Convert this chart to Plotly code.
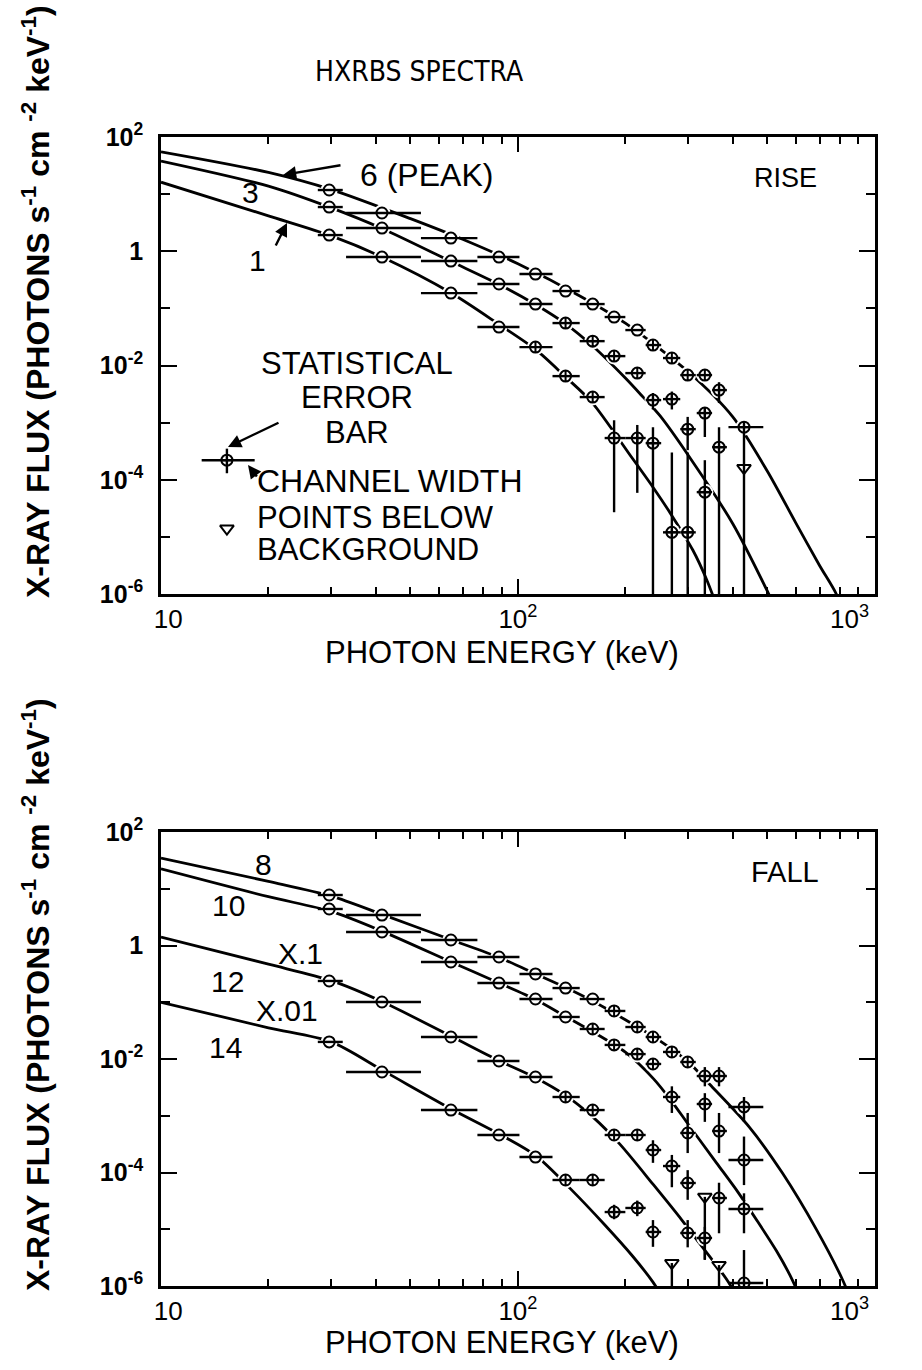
import plotly.graph_objects as go

W, H = 922, 1370

# ---------------------------------------------------------------
# Detector channels (keV): centre and lower / upper channel edges
# ---------------------------------------------------------------
E_CH    = [29.6, 41.6, 64.9, 88.5, 112, 136, 162, 186, 216, 239, 270, 299, 334, 366, 430]
E_CH_LO = [27.5, 33.0, 53.5, 77.0, 101, 125, 149, 175, 200, 228, 255, 285, 317, 350, 389]
E_CH_HI = [32.3, 53.5, 77.0, 101, 125, 149, 175, 200, 228, 252, 285, 315, 350, 385, 487]

OFF = 1e-7  # lower end for error bars that run off the bottom of the axis

# ---------------------------------------------------------------
# RISE spectra (photons s^-1 cm^-2 keV^-1); None = no point
# ---------------------------------------------------------------
RISE_6    = [11.8, 4.67, 1.70, 0.791, 0.399, 0.201, 0.119, 0.0705, 0.0417, 0.0228,
             0.0135, 0.00679, 0.00679, 0.00371, 8.34e-4]
RISE_6_LO = [None] * 13 + [0.0022, 4.4e-4]
RISE_6_HI = [None] * 13 + [0.0051, 1.02e-3]

RISE_3    = [5.94, 2.55, 0.673, 0.267, 0.119, 0.0553, 0.0267, 0.0146, 0.00736, 0.00248,
             0.00258, 7.69e-4, 1.47e-3, 3.72e-4, None]
RISE_3_LO = [None] * 9 + [0.0017, 0.0017, 3.3e-4, 5.6e-4, OFF, None]
RISE_3_HI = [None] * 9 + [0.0033, 0.0035, 1.26e-3, 1.86e-3, 8.3e-4, None]

RISE_1    = [1.92, 0.791, 0.185, 0.0471, 0.0210, 0.00652, 0.00280, 5.37e-4, 5.37e-4,
             4.37e-4, 1.20e-5, 1.20e-5, 6.07e-5, None, None]
RISE_1_LO = [None] * 7 + [2.7e-5, 5.9e-5, OFF, OFF, OFF, OFF, None, None]
RISE_1_HI = [None] * 7 + [1.1e-3, 9.1e-4, 8.3e-4, 3.0e-4, 3.0e-4, 2.2e-4, None, None]

# points below background (RISE, spectrum 3)
RISE_BG_E  = [430]
RISE_BG_F  = [1.60e-4]
RISE_BG_LO = [OFF]
RISE_BG_HI = [4.4e-4]

# ---------------------------------------------------------------
# FALL spectra
# ---------------------------------------------------------------
FALL_8    = [7.76, 3.44, 1.25, 0.627, 0.315, 0.178, 0.114, 0.0702, 0.0366, 0.0244,
             0.0133, 0.00885, 0.00501, 0.00501, 0.00143]
FALL_8_LO = [None] * 12 + [0.0033, 0.0033, 7.8e-4]
FALL_8_HI = [None] * 12 + [0.0072, 0.0072, 2.14e-3]

FALL_10    = [4.40, 1.73, 0.512, 0.218, 0.114, 0.0550, 0.0338, 0.0177, 0.0122, 0.00817,
              0.00214, 4.97e-4, 1.61e-3, 5.38e-4, 1.66e-4]
FALL_10_LO = [None] * 10 + [1.12e-3, 2.2e-4, 7.8e-4, 2.2e-4, 6.0e-5]
FALL_10_HI = [None] * 10 + [3.3e-3, 1.12e-3, 2.5e-3, 1.12e-3, 4.3e-4]

FALL_12    = [0.237, 0.101, 0.0244, 0.00923, 0.00482, 0.00214, 0.00126, 4.58e-4, 4.58e-4,
              2.49e-4, 1.30e-4, 6.53e-5, None, 3.55e-5, 2.28e-5]
FALL_12_LO = [None] * 9 + [1.48e-4, 5.5e-5, 3.3e-5, None, 8.5e-6, 8.5e-6]
FALL_12_HI = [None] * 9 + [3.7e-4, 2.04e-4, 1.1e-4, None, 6.6e-5, 4.3e-5]

FALL_14    = [0.0200, 0.00590, 0.00126, 4.58e-4, 1.87e-4, 7.38e-5, 7.38e-5, 2.01e-5, 2.37e-5,
              8.95e-6, None, 8.59e-6, 7.01e-6, None, 1.13e-6]
FALL_14_LO = [None] * 7 + [1.5e-5, 1.7e-5, 4.9e-6, None, 4.8e-6, 2.9e-6, None, OFF]
FALL_14_HI = [None] * 7 + [2.7e-5, 3.2e-5, 1.45e-5, None, 1.45e-5, 1.1e-5, None, 4.3e-6]

# points below background (FALL, spectra 12 and 14)
FALL_BG_E  = [334, 270, 366]
FALL_BG_F  = [3.72e-5, 2.54e-6, 2.34e-6]
FALL_BG_LO = [2.9e-6, OFF, OFF]
FALL_BG_HI = [None, None, None]

# ---------------------------------------------------------------
# Fitted model spectra
# ---------------------------------------------------------------
MOD_6_E = [10, 20, 30, 50, 70, 100, 150, 200, 300, 400, 500, 600, 700, 780, 850]
MOD_6_F = [55.0, 24.0, 12.0, 3.72, 1.62, 0.603, 0.162, 0.055, 0.00776, 0.00126,
           1.41e-4, 1.78e-5, 3.16e-6, 1.0e-6, 2.51e-7]
MOD_3_E = [10, 20, 30, 41.6, 65, 88.5, 112, 136, 162, 200, 224, 250, 300, 400, 500, 540]
MOD_3_F = [38.0, 13.8, 5.75, 2.51, 0.661, 0.263, 0.117, 0.0537, 0.0219, 0.00603,
           0.00282, 0.00132, 2.69e-4, 1.70e-5, 1.12e-6, 3.98e-7]
MOD_1_E = [10, 20, 30, 41.6, 65, 88.5, 112, 136, 161, 209, 239, 267, 309, 338, 370]
MOD_1_F = [16.2, 4.17, 1.86, 0.794, 0.186, 0.0525, 0.0191, 0.00631, 0.00229, 2.40e-4,
           7.41e-5, 2.63e-5, 5.89e-6, 1.78e-6, 3.98e-7]

MOD_8_E = [10, 20, 30, 42, 65, 88.5, 112, 136, 162, 200, 250, 300, 345, 445, 551, 687, 812, 870]
MOD_8_F = [34.7, 13.5, 7.41, 3.47, 1.26, 0.617, 0.316, 0.182, 0.105, 0.0490, 0.0209,
           0.00891, 0.00355, 6.31e-4, 9.77e-5, 9.77e-6, 1.29e-6, 4.47e-7]
MOD_10_E = [10, 20, 30, 42, 65, 88.5, 112, 136, 162, 200, 240, 270, 300, 360, 414, 468,
            530, 588, 640]
MOD_10_F = [22.4, 7.24, 3.98, 1.74, 0.513, 0.219, 0.112, 0.0562, 0.0302, 0.0132, 0.00447,
            0.00178, 7.08e-4, 1.48e-4, 4.47e-5, 1.41e-5, 4.17e-6, 1.26e-6, 3.55e-7]
MOD_12_E = [10, 20, 30, 42, 65, 88.5, 112, 136, 162, 193, 240, 288, 313, 385, 430]
MOD_12_F = [1.41, 0.468, 0.240, 0.100, 0.0251, 0.00933, 0.00468, 0.00229, 9.55e-4,
            3.16e-4, 6.03e-5, 1.45e-5, 7.24e-6, 1.29e-6, 3.98e-7]
MOD_14_E = [10, 20, 30, 42, 65, 88.5, 112, 140, 175, 210, 239, 260]
MOD_14_F = [0.100, 0.0355, 0.0200, 0.00617, 0.00132, 4.79e-4, 2.00e-4, 5.25e-5, 1.20e-5,
            3.31e-6, 1.17e-6, 5.01e-7]

# key (legend) sample: one channel with both error bars, one background point
KEY_E, KEY_E_LO, KEY_E_HI = [15.3], [13.0], [18.3]
KEY_F, KEY_F_LO, KEY_F_HI = [2.2e-4], [1.3e-4], [3.5e-4]
KEY_BG_E, KEY_BG_F = [15.3], [1.4e-5]

# axis ticks
NB = "&nbsp;"
X_TICKS = [10, 100, 1000]
X_TICK_TEXT = [NB * 2 + "10", "10<sup>2</sup>", "10<sup>3</sup>" + NB * 7]
X_MINOR = [20, 30, 40, 50, 60, 70, 80, 90, 200, 300, 400, 500, 600, 700, 800, 900]
Y_TICKS = [1e-6, 1e-4, 1e-2, 1, 100]
Y_TICK_TEXT = ["<b>10<sup>-6</sup></b>", "<b>10<sup>-4</sup></b>", "<b>10<sup>-2</sup></b>",
               "<b>1</b>", "<b>10<sup>2</sup></b>"]
Y_MINOR = [1e-5, 1e-3, 1e-1, 10]

FONT = "Liberation Sans, Arial, Helvetica, sans-serif"
NARROW = "Liberation Sans Narrow, DejaVu Sans Condensed, Arial Narrow, Liberation Sans, sans-serif"
INK = "black"


def px(x):
    return x / W


def py(y):
    return 1 - y / H


def model_trace(e, f, xa, ya):
    return go.Scatter(x=e, y=f, mode="lines", xaxis=xa, yaxis=ya,
                      line=dict(color=INK, width=2.8, shape="spline", smoothing=0.8),
                      hoverinfo="skip")


def channel_points(flux, lo, hi, n_open):
    xs, ys, exp, exm, eyp, eym, sym = [], [], [], [], [], [], []
    for i, f in enumerate(flux):
        if f is None:
            continue
        e = E_CH[i]
        xs.append(e)
        ys.append(f)
        exp.append(E_CH_HI[i] - e)
        exm.append(e - E_CH_LO[i])
        eyp.append(hi[i] - f if hi[i] is not None else 0)
        eym.append(f - lo[i] if lo[i] is not None else 0)
        sym.append("circle-open" if i < n_open else "circle-cross-open")
    return xs, ys, exp, exm, eyp, eym, sym


def halo_trace(series, xa, ya, extra_e=(), extra_f=()):
    # white discs that open small gaps in the model curves around each point
    xs, ys = list(extra_e), list(extra_f)
    for flux in series:
        for e, f in zip(E_CH, flux):
            if f is not None:
                xs.append(e)
                ys.append(f)
    return go.Scatter(x=xs, y=ys, mode="markers", xaxis=xa, yaxis=ya,
                      marker=dict(symbol="circle", size=17, color="white",
                                  line=dict(width=0)),
                      hoverinfo="skip")


def data_trace(flux, lo, hi, n_open, xa, ya):
    xs, ys, exp, exm, eyp, eym, sym = channel_points(flux, lo, hi, n_open)
    return go.Scatter(
        x=xs, y=ys, mode="markers", xaxis=xa, yaxis=ya,
        marker=dict(symbol=sym, size=11, color=INK, line=dict(width=2, color=INK)),
        error_x=dict(type="data", symmetric=False, array=exp, arrayminus=exm,
                     thickness=2.4, width=0, color=INK),
        error_y=dict(type="data", symmetric=False, array=eyp, arrayminus=eym,
                     thickness=2.4, width=0, color=INK),
        hoverinfo="skip")


def background_trace(e, f, lo, hi, xa, ya):
    eyp = [h - v if h is not None else 0 for v, h in zip(f, hi)]
    eym = [v - l if l is not None else 0 for v, l in zip(f, lo)]
    return go.Scatter(
        x=e, y=f, mode="markers", xaxis=xa, yaxis=ya,
        marker=dict(symbol="triangle-down-open", size=12, color=INK,
                    line=dict(width=2, color=INK)),
        error_y=dict(type="data", symmetric=False, array=eyp, arrayminus=eym,
                     thickness=2.4, width=0, color=INK),
        hoverinfo="skip")


fig = go.Figure()

# ---- RISE panel ----
for e, f in [(MOD_6_E, MOD_6_F), (MOD_3_E, MOD_3_F), (MOD_1_E, MOD_1_F)]:
    fig.add_trace(model_trace(e, f, "x", "y"))
fig.add_trace(halo_trace([RISE_6, RISE_3, RISE_1], "x", "y", RISE_BG_E, RISE_BG_F))
fig.add_trace(data_trace(RISE_6, RISE_6_LO, RISE_6_HI, 9, "x", "y"))
fig.add_trace(data_trace(RISE_3, RISE_3_LO, RISE_3_HI, 5, "x", "y"))
fig.add_trace(data_trace(RISE_1, RISE_1_LO, RISE_1_HI, 4, "x", "y"))
fig.add_trace(background_trace(RISE_BG_E, RISE_BG_F, RISE_BG_LO, RISE_BG_HI, "x", "y"))

# key symbols
fig.add_trace(go.Scatter(
    x=KEY_E, y=KEY_F, mode="markers", xaxis="x", yaxis="y",
    marker=dict(symbol="circle-cross-open", size=11, color=INK, line=dict(width=2, color=INK)),
    error_x=dict(type="data", symmetric=False,
                 array=[h - e for h, e in zip(KEY_E_HI, KEY_E)],
                 arrayminus=[e - l for l, e in zip(KEY_E_LO, KEY_E)],
                 thickness=2.4, width=0, color=INK),
    error_y=dict(type="data", symmetric=False,
                 array=[h - f for h, f in zip(KEY_F_HI, KEY_F)],
                 arrayminus=[f - l for l, f in zip(KEY_F_LO, KEY_F)],
                 thickness=2.4, width=0, color=INK),
    hoverinfo="skip"))
fig.add_trace(go.Scatter(
    x=KEY_BG_E, y=KEY_BG_F, mode="markers", xaxis="x", yaxis="y",
    marker=dict(symbol="triangle-down-open", size=12, color=INK, line=dict(width=2, color=INK)),
    hoverinfo="skip"))

# ---- FALL panel ----
for e, f in [(MOD_8_E, MOD_8_F), (MOD_10_E, MOD_10_F), (MOD_12_E, MOD_12_F),
             (MOD_14_E, MOD_14_F)]:
    fig.add_trace(model_trace(e, f, "x2", "y2"))
fig.add_trace(halo_trace([FALL_8, FALL_10, FALL_12, FALL_14], "x2", "y2",
                         FALL_BG_E, FALL_BG_F))
fig.add_trace(data_trace(FALL_8, FALL_8_LO, FALL_8_HI, 7, "x2", "y2"))
fig.add_trace(data_trace(FALL_10, FALL_10_LO, FALL_10_HI, 6, "x2", "y2"))
fig.add_trace(data_trace(FALL_12, FALL_12_LO, FALL_12_HI, 5, "x2", "y2"))
fig.add_trace(data_trace(FALL_14, FALL_14_LO, FALL_14_HI, 5, "x2", "y2"))
fig.add_trace(background_trace(FALL_BG_E, FALL_BG_F, FALL_BG_LO, FALL_BG_HI, "x2", "y2"))

# ---- axes ----
X_DOMAIN = [px(161), px(875)]


def xaxis(anchor):
    return dict(type="log", range=[1, 3.0005], domain=X_DOMAIN, anchor=anchor,
                automargin=False, ticklabeloverflow="allow",
                showline=True, linewidth=2.6, linecolor=INK, mirror="allticks",
                ticks="inside", ticklen=15, tickwidth=2.2, tickcolor=INK,
                tickvals=X_TICKS, ticktext=X_TICK_TEXT,
                minor=dict(tickmode="array", tickvals=X_MINOR, ticks="inside",
                           ticklen=7, tickwidth=2, tickcolor=INK, showgrid=False),
                tickfont=dict(family=FONT, size=26, color=INK),
                showgrid=False, zeroline=False, fixedrange=True)


def yaxis(anchor, top, bottom):
    return dict(type="log", range=[-6, 2], domain=[py(bottom), py(top)], anchor=anchor,
                automargin=False,
                showline=True, linewidth=2.6, linecolor=INK, mirror="allticks",
                ticks="inside", ticklen=16, tickwidth=2.2, tickcolor=INK,
                tickvals=Y_TICKS, ticktext=Y_TICK_TEXT,
                minor=dict(tickmode="array", tickvals=Y_MINOR, ticks="inside",
                           ticklen=9, tickwidth=2, tickcolor=INK, showgrid=False),
                tickfont=dict(family=FONT, size=25, color=INK),
                ticklabelstandoff=10,
                showgrid=False, zeroline=False, fixedrange=True)


fig.update_layout(
    width=W, height=H,
    margin=dict(l=0, r=0, t=0, b=0, pad=0, autoexpand=False),
    paper_bgcolor="white", plot_bgcolor="white",
    showlegend=False,
    font=dict(family=FONT, color=INK),
    xaxis=xaxis("y"),
    yaxis=yaxis("x", 137, 594),
    xaxis2=xaxis("y2"),
    yaxis2=yaxis("x2", 832, 1286),
)


# ---- text ----
def label(text, x, y, size=30, anchor="center", family=FONT, **kw):
    fig.add_annotation(text=text, x=px(x), y=py(y), xref="paper", yref="paper",
                       showarrow=False, xanchor=anchor, yanchor="middle",
                       font=dict(family=family, size=size, color=INK), **kw)


def arrow(x_head, y_head, x_tail, y_tail):
    fig.add_annotation(text="", x=px(x_head), y=py(y_head), xref="paper", yref="paper",
                       ax=x_tail - x_head, ay=y_tail - y_head, axref="pixel", ayref="pixel",
                       showarrow=True, arrowhead=2, arrowsize=1.1, arrowwidth=2.4,
                       arrowcolor=INK)


label("HXRBS SPECTRA", 419, 72, size=28, family=NARROW)

Y_TITLE = "X-RAY FLUX (PHOTONS s<sup>-1</sup> cm <sup>-2</sup> keV<sup>-1</sup>)"
label("<b>" + Y_TITLE + "</b>", 36, 302, size=32, textangle=-90)
label("<b>" + Y_TITLE + "</b>", 36, 995, size=32, textangle=-90)
label("PHOTON ENERGY (keV)", 502, 652, size=31)
label("PHOTON ENERGY (keV)", 502, 1342, size=31)

# RISE panel labels
label("6 (PEAK)", 358, 175, size=32, anchor="left")
arrow(283, 175, 342, 165)
label("3", 250, 193)
label("1", 257, 260)
arrow(287, 223, 275, 247)
label("RISE", 785, 178, size=27)
label("STATISTICAL", 357, 363, size=31)
label("ERROR", 357, 398, size=31)
label("BAR", 357, 433, size=31)
arrow(228, 447, 280, 422)
label("CHANNEL WIDTH", 255, 481, size=32, anchor="left")
arrow(248, 465, 258, 478)
label("POINTS BELOW", 255, 517, size=31, anchor="left")
label("BACKGROUND", 255, 549, size=31, anchor="left")

# FALL panel labels
label("8", 263, 865)
label("10", 228, 905)
label("X.1", 300, 953)
label("12", 227, 982)
label("X.01", 287, 1010)
label("14", 225, 1047)
label("FALL", 785, 872, size=29)

fig.write_html("out.html")
